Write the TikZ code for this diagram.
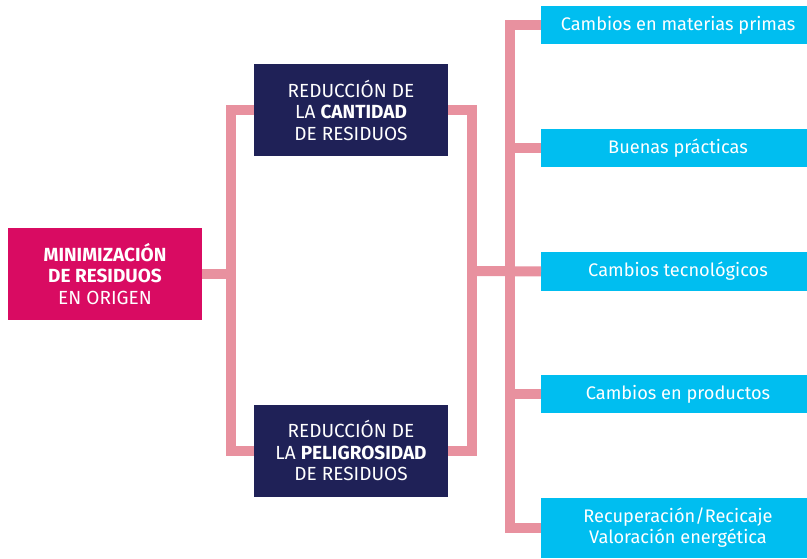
\documentclass[tikz,border=0pt]{standalone}
\usepackage{fontspec}
\setmainfont{Fira Sans}
\definecolor{origen}{HTML}{D90B62}
\definecolor{marino}{HTML}{1F2157}
\definecolor{celeste}{HTML}{00BEF0}
\definecolor{rosa}{HTML}{E8919F}
\tikzset{every picture/.style={x=1pt,y=-1pt}}
\tikzset{
  caja/.style={fill=marino, text=white, minimum width=194pt, minimum height=92pt,
    inner sep=0pt, outer sep=0pt, align=center, font=\fontsize{19}{21.5}\selectfont},
  raiz/.style={caja, fill=origen},
  accion/.style={fill=celeste, text=white, minimum width=274pt, minimum height=38pt,
    inner sep=0pt, outer sep=0pt, align=center, font=\fontsize{18.2}{21}\selectfont},
  enlace/.style={draw=rosa, line width=10pt, line join=miter}
}

\begin{document}
\begin{tikzpicture}
  \useasboundingbox (0,0) rectangle (807,559);
  \node[raiz] (minim) at (105,274) {\textbf{MINIMIZACIÓN}\\\textbf{DE RESIDUOS}\\EN ORIGEN};
  \node[caja] (cant) at (351,110) {REDUCCIÓN DE\\LA \textbf{CANTIDAD}\\DE RESIDUOS};
  \node[caja] (pelig) at (351,450.5) {REDUCCIÓN DE\\LA \textbf{PELIGROSIDAD}\\DE RESIDUOS};
  \node[accion] (mat) at (678,25) {Cambios en materias primas};
  \node[accion] (prac) at (678,148) {Buenas prácticas};
  \node[accion, minimum height=39pt] (tec) at (678,271.5) {Cambios tecnológicos};
  \node[accion] (prod) at (678,394) {Cambios en productos};
  \node[accion, minimum height=60pt] (recup) at (678,528) {Recuperación/Recicaje\\Valoración energética};
  \coordinate (j1) at (231,274);
  \coordinate (j2) at (472,271);
  \coordinate (j3) at (509.5,271);
  \draw[enlace] (minim.east) -- (j1);
  \draw[enlace] (cant.west) -| (j1) |- (pelig.west);
  \draw[enlace] (cant.east) -| (j2) |- (pelig.east);
  \draw[enlace] (j2) -- (tec.west);
  \draw[enlace] (mat.west) -| (j3) |- (recup.west);
  \draw[enlace] (prac.west) -- (prac.west -| j3);
  \draw[enlace] (prod.west) -- (prod.west -| j3);
\end{tikzpicture}
\end{document}
